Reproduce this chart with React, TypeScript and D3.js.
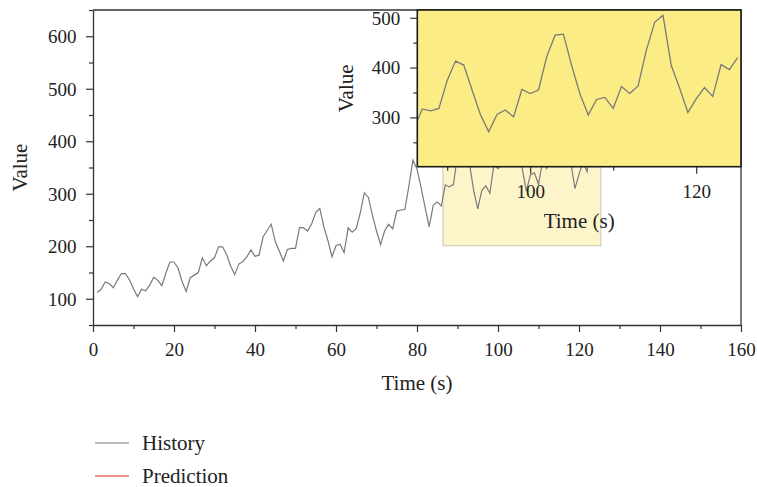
import React, { useEffect, useRef } from "react";
import * as d3 from "d3";

const width = 757;
const height = 487;
const margin = { top: 10, right: 16, bottom: 162, left: 93 };

// monthly series, x = 1..125 history, 126..144 prediction
const history = [
  112, 118, 132, 129, 121, 135, 148, 148, 136, 119, 104, 118,
  115, 126, 141, 135, 125, 149, 170, 170, 158, 133, 114, 140,
  145, 150, 178, 163, 172, 178, 199, 199, 184, 162, 146, 166,
  171, 180, 193, 181, 183, 218, 230, 242, 209, 191, 172, 194,
  196, 196, 236, 235, 229, 243, 264, 272, 237, 211, 180, 201,
  204, 188, 235, 227, 234, 264, 302, 293, 259, 229, 203, 229,
  242, 233, 267, 269, 270, 315, 364, 347, 312, 274, 237, 278,
  284, 277, 317, 313, 318, 374, 413, 405, 355, 306, 271, 306,
  315, 301, 356, 348, 355, 422, 465, 467, 404, 347, 305, 336,
  340, 318, 362, 348, 363, 435, 491, 505, 404, 359, 310, 337,
  360, 342, 406, 396, 420,
];
const prediction = [
  472, 548, 559, 463, 407, 362, 405, 417, 391, 419, 461, 472,
  535, 622, 606, 508, 461, 390, 432,
];

const xDomain = [0, 160];
const yDomain = [50, 650];
const xTicks = [0, 20, 40, 60, 80, 100, 120, 140, 160];
const yTicks = [100, 200, 300, 400, 500, 600];

// zoomed window
const zoomX = [86.4, 125.4];
const zoomY = [201, 515.6];
const zoomXTicks = [100, 120];
const zoomYTicks = [300, 400, 500];

const legendItems = ["History", "Prediction"];
const legendColors = ["#7a7a7a", "#e8231f"];

const font = "Liberation Serif";
const ink = "#222";

function styleAxis(g: any, majors: number[], horizontal: boolean, labelOffset: number) {
  g.selectAll("path").attr("stroke", "#333").attr("stroke-width", 1.3);
  g.selectAll(".tick line")
    .attr("stroke", "#333").attr("stroke-width", 1.2)
    .attr(horizontal ? "y2" : "x2", (d: any) => (majors.includes(d) ? 7 : 4) * (horizontal ? 1 : -1));
  const t = g.selectAll(".tick text")
    .attr("font-family", font).attr("font-size", 19).attr("fill", ink);
  if (horizontal) t.attr("y", labelOffset).attr("dy", null);
  else t.attr("x", -labelOffset).attr("dy", "0.33em");
}

export default function App() {
  const ref = useRef<SVGSVGElement>(null);

  useEffect(() => {
    const svg = d3.select(ref.current);
    svg.selectAll("*").remove();

    const x = d3.scaleLinear().domain(xDomain).range([margin.left, width - margin.right]);
    const y = d3.scaleLinear().domain(yDomain).range([height - margin.bottom, margin.top]);

    const histPts = history.map((v, i) => [i + 1, v]);
    const predPts = prediction.map((v, i) => [history.length + i + 1, v]);

    // ------- main axes -------
    const xAxis = d3.axisBottom(x).tickValues(d3.range(0, 161, 10)).tickSize(7).tickSizeOuter(0)
      .tickFormat((d: any) => (xTicks.includes(d) ? String(d) : ""));
    const yAxis = d3.axisLeft(y).tickValues(d3.range(50, 651, 50)).tickSize(7).tickSizeOuter(0)
      .tickFormat((d: any) => (yTicks.includes(d) ? String(d) : ""));

    const gx = svg.append("g").attr("transform", `translate(0,${height - margin.bottom})`).call(xAxis);
    const gy = svg.append("g").attr("transform", `translate(${margin.left},0)`).call(yAxis);
    styleAxis(gx, xTicks, true, 31);
    styleAxis(gy, yTicks, false, 16.5);

    // frame top / right
    svg.append("path")
      .attr("d", `M${x(0)},${y(650)}H${x(160)}V${y(50)}`)
      .attr("fill", "none").attr("stroke", "#333").attr("stroke-width", 1.3);

    // zoom window marker
    svg.append("rect")
      .attr("x", x(zoomX[0])).attr("y", y(zoomY[1]))
      .attr("width", x(zoomX[1]) - x(zoomX[0]))
      .attr("height", y(zoomY[0]) - y(zoomY[1]))
      .attr("fill", "#fdf5c9").attr("stroke", "#c8c5b8").attr("stroke-width", 1);

    const line = d3.line<number[]>().x((d) => x(d[0])).y((d) => y(d[1]));
    svg.append("path").attr("d", line(predPts as any))
      .attr("fill", "none").attr("stroke", legendColors[1]).attr("stroke-width", 1.2);
    svg.append("path").attr("d", line(histPts as any))
      .attr("fill", "none").attr("stroke", legendColors[0]).attr("stroke-width", 1.2);

    svg.append("text").attr("x", (x(0) + x(160)) / 2).attr("y", 390)
      .attr("text-anchor", "middle").attr("font-family", font).attr("font-size", 21)
      .attr("fill", ink).text("Time (s)");
    svg.append("text").attr("transform", `translate(27,${(y(650) + y(50)) / 2}) rotate(-90)`)
      .attr("text-anchor", "middle").attr("font-family", font).attr("font-size", 21)
      .attr("fill", ink).text("Value");

    // ------- inset -------
    const ix = d3.scaleLinear().domain(zoomX).range([417.3, width - margin.right]);
    const iy = d3.scaleLinear().domain(zoomY).range([166.7, margin.top]);
    const ibox = {
      x: ix(zoomX[0]), y: iy(zoomY[1]),
      w: ix(zoomX[1]) - ix(zoomX[0]), h: iy(zoomY[0]) - iy(zoomY[1]),
    };

    svg.append("rect").attr("x", ibox.x).attr("y", ibox.y)
      .attr("width", ibox.w).attr("height", ibox.h).attr("fill", "#fcec86");

    svg.append("clipPath").attr("id", "inset-clip").append("rect")
      .attr("x", ibox.x).attr("y", ibox.y).attr("width", ibox.w).attr("height", ibox.h);

    const iline = d3.line<number[]>().x((d) => ix(d[0])).y((d) => iy(d[1]));
    const inner = svg.append("g").attr("clip-path", "url(#inset-clip)");
    inner.append("path").attr("d", iline(predPts as any))
      .attr("fill", "none").attr("stroke", legendColors[1]).attr("stroke-width", 1.2);
    inner.append("path").attr("d", iline(histPts as any))
      .attr("fill", "none").attr("stroke", legendColors[0]).attr("stroke-width", 1.3);

    const ixAxis = d3.axisBottom(ix).tickValues([90, 100, 110, 120]).tickSize(7).tickSizeOuter(0)
      .tickFormat((d: any) => (zoomXTicks.includes(d) ? String(d) : ""));
    const iyAxis = d3.axisLeft(iy).tickValues([250, 300, 350, 400, 450, 500]).tickSize(7).tickSizeOuter(0)
      .tickFormat((d: any) => (zoomYTicks.includes(d) ? String(d) : ""));
    const gix = svg.append("g").attr("transform", `translate(0,${ibox.y + ibox.h})`).call(ixAxis);
    const giy = svg.append("g").attr("transform", `translate(${ibox.x},0)`).call(iyAxis);
    styleAxis(gix, zoomXTicks, true, 31.5);
    styleAxis(giy, zoomYTicks, false, 17);
    gix.select("path").remove();
    giy.select("path").remove();

    svg.append("rect").attr("x", ibox.x).attr("y", ibox.y)
      .attr("width", ibox.w).attr("height", ibox.h)
      .attr("fill", "none").attr("stroke", "#1a1a1a").attr("stroke-width", 1.6);

    svg.append("text").attr("x", ibox.x + ibox.w / 2).attr("y", 228)
      .attr("text-anchor", "middle").attr("font-family", font).attr("font-size", 21)
      .attr("fill", ink).text("Time (s)");
    svg.append("text").attr("transform", `translate(353,${ibox.y + ibox.h / 2}) rotate(-90)`)
      .attr("text-anchor", "middle").attr("font-family", font).attr("font-size", 21)
      .attr("fill", ink).text("Value");

    // ------- legend -------
    const lg = svg.append("g").selectAll("g").data(legendItems).join("g")
      .attr("transform", (d, i) => `translate(95,${443 + i * 33})`);
    lg.append("line").attr("x1", 0).attr("x2", 34).attr("y1", 0).attr("y2", 0)
      .attr("stroke", (d, i) => legendColors[i]).attr("stroke-width", 1.2);
    lg.append("text").attr("x", 47).attr("y", 7).attr("font-family", font).attr("font-size", 21)
      .attr("fill", ink).text((d) => d);
  }, []);

  return (
    <svg ref={ref} width={width} height={height}
      style={{ position: "absolute", left: 0, top: 0, background: "#fff" }} />
  );
}
